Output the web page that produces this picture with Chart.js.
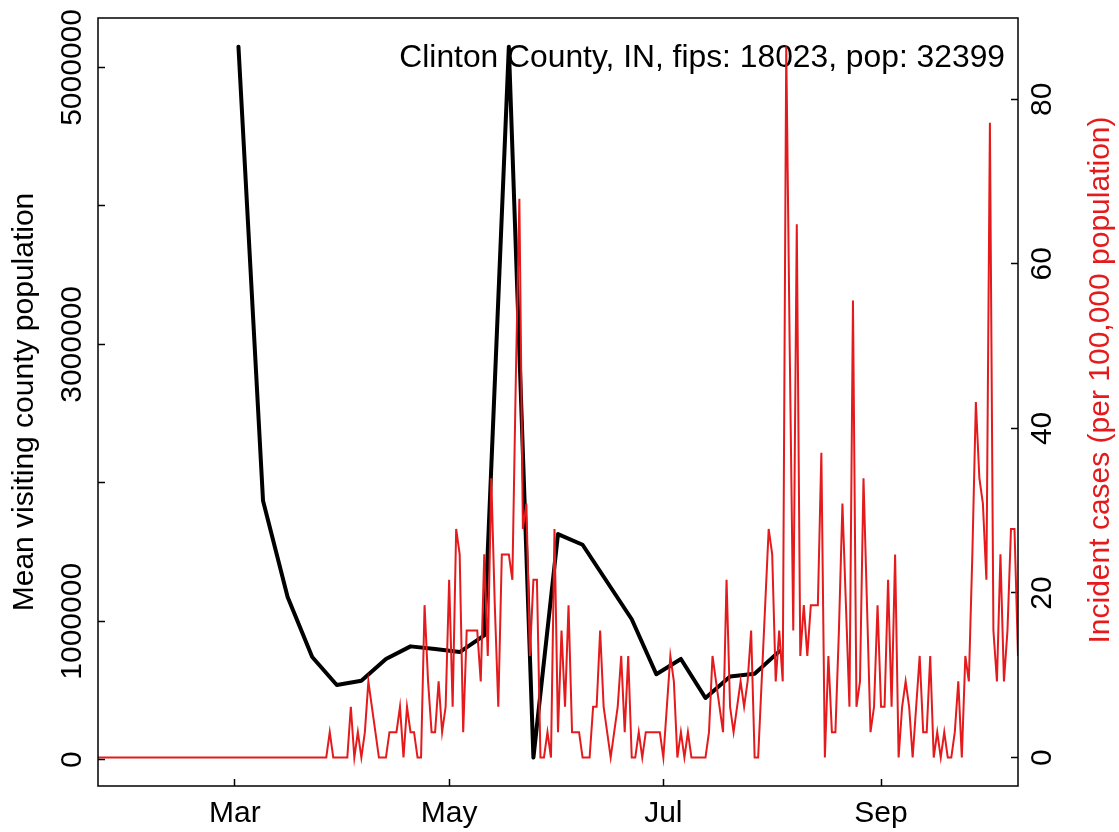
<!DOCTYPE html>
<html>
<head>
<meta charset="utf-8">
<script src="https://cdn.jsdelivr.net/npm/chart.js@4.4.1/dist/chart.umd.min.js"></script>
<style>
  html,body{margin:0;padding:0;background:#fff;}
  #wrap{width:1119px;height:832px;}
</style>
</head>
<body>
<div id="wrap"><canvas id="chart" width="1119" height="832"></canvas></div>
<script>
const titleText = 'Clinton County, IN, fips: 18023, pop: 32399';
const leftTitle = 'Mean visiting county population';
const rightTitle = 'Incident cases (per 100,000 population)';

// x values are day of year 2020 (Jan 1 = 0)
const monthTickDays = [60, 121, 182, 244];
const monthTickLabels = ['Mar', 'May', 'Jul', 'Sep'];

const leftTicks = [0, 1000000, 2000000, 3000000, 4000000, 5000000];
const leftTickLabels = ['0', '1000000', '', '3000000', '', '5000000'];
const rightTicks = [0, 20, 40, 60, 80];

// weekly mean visiting population
const visitDays = [61,68,75,82,89,96,103,110,117,124,131,138,145,152,159,173,180,187,194,201,208,215];
const visitPop = [5150000,1870000,1175000,742000,540000,571000,728000,819000,800000,778000,898000,
  5150000,16000,1630000,1553000,1015000,618000,728000,446000,602000,621000,783000];

// daily incidence per 100k, first value is Jan 22
const caseStartDay = 21;
const incidence = [
  0,0,0,0,0,0,0,0,0,0,0,
  0,0,0,0,0,0,0,0,0,0,0,
  0,0,0,0,0,0,0,0,0,0,0,
  0,0,0,0,0,0,0,0,0,0,0,
  0,0,0,0,0,0,0,0,0,0,0,
  0,0,0,0,0,0,0,0,0,0,0,
  3.09,0,0,0,0,0,6.17,0,3.09,0,
  3.09,9.26,6.17,3.09,0,0,0,3.09,3.09,3.09,
  6.17,0,6.17,3.09,3.09,0,0,18.52,9.26,3.09,
  3.09,9.26,3.09,6.17,21.61,6.17,27.78,24.69,3.09,15.43,
  15.43,15.43,15.43,9.26,24.69,12.35,33.95,18.52,6.17,24.69,
  24.69,24.69,21.61,46.3,67.9,27.78,30.87,12.35,21.61,21.61,
  0,0,3.09,0,27.78,3.09,15.43,6.17,18.52,3.09,
  3.09,3.09,0,0,0,6.17,6.17,15.43,6.17,3.09,
  0,3.09,6.17,12.35,3.09,12.35,0,0,3.09,0,
  3.09,3.09,3.09,3.09,3.09,0,6.17,12.35,9.26,0,
  3.09,0,3.09,0,0,0,0,0,3.09,12.35,
  9.26,6.17,3.09,21.61,6.17,3.09,6.17,9.26,6.17,9.26,
  15.43,0,0,9.26,18.52,27.78,24.69,9.26,15.43,9.26,
  86.42,49.38,15.43,64.82,12.35,18.52,12.35,18.52,18.52,18.52,
  37.04,0,12.35,3.09,3.09,15.43,30.87,18.52,6.17,55.56,
  6.17,9.26,33.95,18.52,3.09,6.17,18.52,6.17,6.17,21.61,
  6.17,24.69,0,6.17,9.26,6.17,0,6.17,12.35,3.09,
  3.09,12.35,0,3.09,0,3.09,0,0,3.09,9.26,
  0,12.35,9.26,24.69,43.21,33.95,30.87,21.61,77.16,15.43,
  9.26,24.69,9.26,15.43,27.78,27.78,12.35
];

const RED = '#e41a1c';
const FAM = "'Liberation Sans', Arial, Helvetica, sans-serif";
const axisFont = {family: FAM, size: 30};
const tickGrid = {drawOnChartArea:false, tickLength:-7, tickColor:'#000', tickWidth:1.5};

// fixed box sizes so the plot region sits where the reference has it
function fixBox(size){
  return s => {
    if (s.isHorizontal()) s.height = size; else s.width = size;
    s.paddingTop = 0; s.paddingBottom = 0; s.paddingLeft = 0; s.paddingRight = 0;
  };
}

// frame around the plot region, right title, and the county label
const extras = {
  id:'extras',
  beforeDatasetsDraw(chart){
    const {ctx, chartArea:a} = chart;
    ctx.save();
    ctx.font = '31.8px ' + FAM;
    ctx.fillStyle = '#000';
    ctx.textAlign = 'right';
    ctx.textBaseline = 'alphabetic';
    ctx.fillText(titleText, a.right - 13, 67);
    ctx.restore();
  },
  afterDraw(chart){
    const {ctx, chartArea:a} = chart;
    ctx.save();
    ctx.strokeStyle = '#000';
    ctx.lineWidth = 1.5;
    ctx.strokeRect(a.left, a.top, a.right - a.left, a.bottom - a.top);
    ctx.translate(1101, 380);
    ctx.rotate(-Math.PI/2);
    ctx.font = '30px ' + FAM;
    ctx.fillStyle = RED;
    ctx.textAlign = 'center';
    ctx.textBaseline = 'middle';
    ctx.fillText(rightTitle, 0, 0);
    ctx.restore();
  }
};

new Chart(document.getElementById('chart').getContext('2d'), {
  type:'line',
  data:{
    datasets:[
      {label:'Incident cases', yAxisID:'y1', order:0,
       data: incidence.map((v,i)=>({x: caseStartDay + i, y: v})),
       borderColor:RED, borderWidth:2, pointRadius:0, tension:0, fill:false},
      {label:'Mean visiting county population', yAxisID:'y', order:1,
       data: visitDays.map((d,i)=>({x: d, y: visitPop[i]})),
       borderColor:'#000', borderWidth:4, pointRadius:0, tension:0, fill:false,
       borderJoinStyle:'round', borderCapStyle:'round'}
    ]
  },
  options:{
    responsive:false, animation:false, devicePixelRatio:1,
    layout:{padding:{top:18, left:0, right:0, bottom:0}},
    plugins:{legend:{display:false}, tooltip:{enabled:false}, title:{display:false}},
    scales:{
      x:{type:'linear', position:'bottom', min:caseStartDay, max:caseStartDay + incidence.length - 1,
        afterBuildTicks: s => { s.ticks = monthTickDays.map(v => ({value:v})); },
        afterFit: fixBox(46),
        grid:tickGrid, border:{display:false},
        ticks:{autoSkip:false, minRotation:0, maxRotation:0, padding:17, color:'#000', font:axisFont,
          callback: v => { const i = monthTickDays.indexOf(v); return i < 0 ? '' : monthTickLabels[i]; }}},
      y:{type:'linear', position:'left', min:-189400, max:5357000,
        afterBuildTicks: s => { s.ticks = leftTicks.map(v => ({value:v})); },
        afterFit: fixBox(98),
        grid:tickGrid, border:{display:false},
        title:{display:true, text:leftTitle, color:'#000', font:axisFont, padding:{top:7, bottom:0}},
        ticks:{autoSkip:false, minRotation:90, maxRotation:90, crossAlign:'center', padding:-26, color:'#000', font:axisFont,
          callback: v => { const i = leftTicks.indexOf(v); return i < 0 ? '' : leftTickLabels[i]; }}},
      y1:{type:'linear', position:'right', min:-3.457, max:89.88,
        afterBuildTicks: s => { s.ticks = rightTicks.map(v => ({value:v})); },
        afterFit: fixBox(101),
        grid:tickGrid, border:{display:false},
        ticks:{autoSkip:false, minRotation:90, maxRotation:90, crossAlign:'center', padding:15, color:'#000', font:axisFont,
          callback: v => String(v)}}
    }
  },
  plugins:[extras]
});
</script>
</body>
</html>
